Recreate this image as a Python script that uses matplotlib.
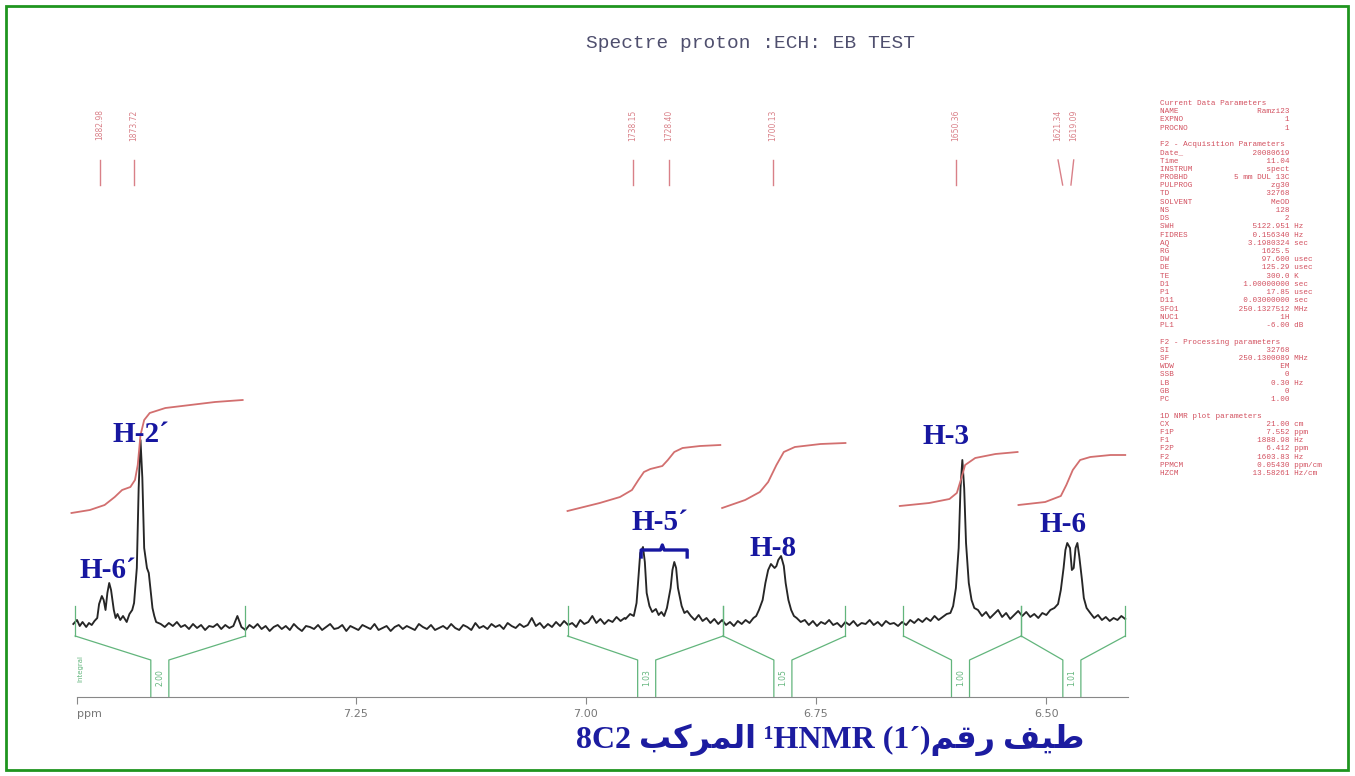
import numpy as np
import matplotlib
matplotlib.use("Agg")
import matplotlib.pyplot as plt
from matplotlib.patches import Rectangle

# ---- 1H NMR trace (ppm, intensity in arbitrary units) ----
# H-6' doublet + H-2' singlet (left end of the window)
ppm_a = [7.557, 7.553, 7.550, 7.547, 7.543, 7.540, 7.537, 7.534, 7.531, 7.529,
         7.526, 7.524, 7.522, 7.520, 7.518, 7.516, 7.513, 7.511, 7.509, 7.506,
         7.503, 7.499, 7.496, 7.493, 7.491, 7.488, 7.486, 7.484, 7.482, 7.480,
         7.477, 7.475, 7.473, 7.471, 7.469, 7.467]
int_a = [4, 8, 2, 6, 1, 5, 3, 7, 10, 24,
         32, 28, 18, 35, 45, 38, 18, 10, 14, 8,
         12, 6, 14, 18, 25, 60, 140, 188, 150, 80,
         60, 55, 38, 20, 12, 6]
# baseline 7.462 -> 6.958
base_b = [4, 1, 5, 2, 6, 1, 3, -1, 4, 0, 3, -2, 2, 1, 4, -1, 3, 0, 2, 12,
          1, -2, 3, 0, 4, -1, 2, -3, 1, 3, -1, 2, -2, 4, 0, -3, 2, 1, -1, 3,
          -2, 1, 4, -1, 0, 3, -3, 2, 0, -2, 3, 1, -1, 4, -2, 0, 2, -3, 1, 3,
          -1, 2, 0, -2, 4, 1, -1, 3, -2, 0, 2, -1, 4, 0, -2, 3, 1, -2, 5, 0,
          2, -1, 4, 1, 3, -1, 5, 2, 0, 4, 1, 3, 10, 2, 5, 0, 4, 1, 6, 2,
          7, 3, 5, 1, 8, 4, 6, 12, 5, 9, 4, 8, 6, 11, 7, 10]
# H-5'
ppm_c = [6.957, 6.952, 6.948, 6.945, 6.943, 6.941, 6.938, 6.936, 6.934, 6.931,
         6.928, 6.924, 6.921, 6.918, 6.915, 6.912, 6.908, 6.906, 6.904, 6.902,
         6.900, 6.896, 6.893, 6.890]
int_c = [9, 14, 12, 25, 50, 75, 81, 66, 35, 22,
         16, 19, 13, 16, 12, 20, 40, 58, 66, 60,
         40, 22, 15, 17]
base_d = [12, 8, 13, 7, 10, 5, 9, 4, 8, 3, 6, 2, 7, 4, 8, 5, 10]   # 6.886 -> 6.818
# H-8
ppm_e = [6.815, 6.812, 6.808, 6.805, 6.802, 6.799, 6.795, 6.793, 6.791, 6.788,
         6.785, 6.783, 6.780, 6.777, 6.774]
int_e = [12, 18, 28, 45, 58, 64, 60, 62, 68, 72, 62, 45, 28, 18, 12]
base_f = [10, 6, 8, 3, 7, 2, 6, 4, 8, 3, 5, 1, 6, 3, 7, 2, 5, 4, 8, 3,
          6, 2, 7, 4, 5, 2, 6, 3, 8, 5, 9, 6, 10, 7, 12, 8, 11, 14]   # 6.771 -> 6.608
# H-3
ppm_g = [6.604, 6.601, 6.598, 6.595, 6.593, 6.591, 6.589, 6.587, 6.584, 6.581, 6.578]
int_g = [15, 22, 40, 80, 140, 168, 140, 85, 45, 28, 20]
base_h = [18, 12, 16, 10, 14, 18, 11, 15, 9, 13, 17, 12, 16, 11, 14, 10, 15, 13, 18, 20]  # 6.574 -> 6.491
# H-6
ppm_i = [6.487, 6.484, 6.481, 6.479, 6.477, 6.474, 6.472, 6.470, 6.468, 6.466,
         6.464, 6.461, 6.459, 6.456]
int_i = [24, 38, 60, 78, 85, 80, 58, 60, 80, 85, 72, 48, 30, 20]
base_j = [15, 10, 13, 8, 11, 7, 10, 8, 12, 9]   # 6.452 -> 6.414

# ---- integral curves (ppm, running integral) ----
integ_ppm = [
    [7.559, 7.539, 7.523, 7.512, 7.504, 7.495, 7.490, 7.487, 7.484, 7.480, 7.474, 7.457, 7.430, 7.403, 7.373],
    [7.020, 6.985, 6.963, 6.950, 6.943, 6.937, 6.930, 6.917, 6.911, 6.904, 6.895, 6.876, 6.854],
    [6.852, 6.827, 6.811, 6.802, 6.793, 6.785, 6.773, 6.745, 6.718],
    [6.659, 6.627, 6.605, 6.597, 6.592, 6.588, 6.577, 6.555, 6.531],
    [6.530, 6.501, 6.484, 6.478, 6.471, 6.463, 6.452, 6.430, 6.414],
]
integ_val = [
    [115, 118, 123, 131, 138, 141, 148, 163, 193, 208, 215, 220, 223, 226, 228],
    [117, 125, 131, 138, 148, 156, 159, 162, 168, 176, 180, 182, 183],
    [120, 128, 136, 146, 163, 176, 181, 184, 185],
    [122, 125, 129, 135, 150, 163, 170, 174, 176],
    [123, 126, 132, 143, 158, 168, 171, 173, 173],
]
# integration regions (edges), box positions and integral values
region_edges = [(7.555, 7.370), (7.020, 6.851), (6.851, 6.718), (6.655, 6.527), (6.527, 6.414)]
region_box = [7.463, 6.934, 6.786, 6.593, 6.472]
region_text = ["2.00", "1.03", "1.05", "1.00", "1.01"]

# peak picking (label position, line bottom)
pick_label = [7.528, 7.491, 6.949, 6.910, 6.797, 6.598, 6.487, 6.470]
pick_peak = [7.528, 7.491, 6.949, 6.910, 6.797, 6.598, 6.482, 6.473]
sf_mhz = 250.13

# assignments
lab_text = ["H-6\u00b4", "H-2\u00b4", "H-5\u00b4", "H-8", "H-3", "H-6"]
lab_ppm = [7.520, 7.484, 6.920, 6.797, 6.609, 6.482]
lab_int = [58, 193, 106, 80, 192, 103]

params = [
    ("Current Data Parameters", None, None),
    ("NAME", "Ramzi23", ""), ("EXPNO", "1", ""), ("PROCNO", "1", ""),
    ("", None, None),
    ("F2 - Acquisition Parameters", None, None),
    ("Date_", "20080619", ""), ("Time", "11.04", ""), ("INSTRUM", "spect", ""),
    ("PROBHD", "5 mm DUL 13C", ""), ("PULPROG", "zg30", ""), ("TD", "32768", ""),
    ("SOLVENT", "MeOD", ""), ("NS", "128", ""), ("DS", "2", ""),
    ("SWH", "5122.951", "Hz"), ("FIDRES", "0.156340", "Hz"), ("AQ", "3.1980324", "sec"),
    ("RG", "1625.5", ""), ("DW", "97.600", "usec"), ("DE", "125.29", "usec"),
    ("TE", "300.0", "K"), ("D1", "1.00000000", "sec"), ("P1", "17.85", "usec"),
    ("D11", "0.03000000", "sec"), ("SFO1", "250.1327512", "MHz"), ("NUC1", "1H", ""),
    ("PL1", "-6.00", "dB"),
    ("", None, None),
    ("F2 - Processing parameters", None, None),
    ("SI", "32768", ""), ("SF", "250.1300089", "MHz"), ("WDW", "EM", ""),
    ("SSB", "0", ""), ("LB", "0.30", "Hz"), ("GB", "0", ""), ("PC", "1.00", ""),
    ("", None, None),
    ("1D NMR plot parameters", None, None),
    ("CX", "21.00", "cm"), ("F1P", "7.552", "ppm"), ("F1", "1888.98", "Hz"),
    ("F2P", "6.412", "ppm"), ("F2", "1603.83", "Hz"), ("PPMCM", "0.05430", "ppm/cm"),
    ("HZCM", "13.58261", "Hz/cm"),
]

# ---- build trace ----
trace_ppm = np.concatenate([
    ppm_a, np.linspace(7.462, 6.958, len(base_b)), ppm_c,
    np.linspace(6.886, 6.818, len(base_d)), ppm_e,
    np.linspace(6.771, 6.608, len(base_f)), ppm_g,
    np.linspace(6.574, 6.491, len(base_h)), ppm_i,
    np.linspace(6.452, 6.414, len(base_j)),
])
trace_int = np.concatenate([int_a, base_b, int_c, base_d, int_e, base_f,
                            int_g, base_h, int_i, base_j])

W, H = 1355, 776
fig = plt.figure(figsize=(W / 100, H / 100), dpi=100)
fig.patch.set_facecolor("white")

# green frame
fig.add_artist(Rectangle((6 / W, 6 / H), (1348 - 6) / W, (770 - 6) / H,
                         transform=fig.transFigure, fill=False,
                         edgecolor="#1f951f", lw=2))

ax = fig.add_axes([77 / W, 1 - 697 / H, (1128 - 77) / W, (697 - 90) / H])
ax.set_xlim(7.553, 6.411)
ax.set_ylim(-69, 538)
ax.set_facecolor("none")
for s in ["top", "left", "right"]:
    ax.spines[s].set_visible(False)
ax.spines["bottom"].set_color("#888888")
ax.set_yticks([])
ax.set_xticks([7.553, 7.25, 7.00, 6.75, 6.50])
ax.set_xticklabels(["ppm", "7.25", "7.00", "6.75", "6.50"])
ax.tick_params(axis="x", direction="out", length=5, color="#888888",
               labelsize=8, labelcolor="#777777")
ax.get_xticklabels()[0].set_ha("left")

# spectrum
ax.plot(trace_ppm, trace_int, color="#262626", lw=1.35, clip_on=False)

# integrals
green = "#62b57c"
for xs, ys in zip(integ_ppm, integ_val):
    ax.plot(xs, ys, color="#d26f6f", lw=1.3, clip_on=False)
hw = 0.0098
for (e1, e2), c, t in zip(region_edges, region_box, region_text):
    for e in (e1, e2):
        ax.plot([e, e], [-8, 22], color=green, lw=0.9, clip_on=False)
    ax.plot([e1, c + hw, c + hw], [-8, -32, -69], color=green, lw=0.9, clip_on=False)
    ax.plot([e2, c - hw, c - hw], [-8, -32, -69], color=green, lw=0.9, clip_on=False)
    ax.text(c, -50, t, rotation=90, fontsize=5.5, color=green,
            ha="center", va="center", family="DejaVu Sans")
ax.text(7.549, -40, "Integral", rotation=90, fontsize=5, color=green,
        ha="center", va="center")

# peak picking
for pl, pp in zip(pick_label, pick_peak):
    ax.plot([pl, pp], [468, 443], color="#d98088", lw=1.0)
    ax.text(pl, 503, "%.2f" % (pp * sf_mhz), rotation=90, fontsize=5.5,
            color="#d98088", ha="center", va="center")

# assignments
for t, x, y in zip(lab_text, lab_ppm, lab_int):
    ax.text(x, y, t, family="Liberation Serif", weight="bold", fontsize=21,
            color="#1717a0", ha="center", va="center")
ax.plot([6.940, 6.940, 6.919, 6.917, 6.915, 6.890, 6.890],
        [71, 78, 78, 83, 78, 78, 71], color="#1717a0", lw=2.4)

# title
fig.text(750 / W, 1 - 44 / H, "Spectre proton :ECH: EB TEST",
         family="Liberation Mono", fontsize=14, color="#4f4f6e",
         ha="center", va="center")

# parameter block
lines = []
for name, val, unit in params:
    if val is None:
        lines.append(name)
    else:
        lines.append("%-9s%19s %s" % (name, val, unit))
fig.text(1160 / W, 1 - 100 / H, "\n".join(lines), family="Liberation Mono",
         fontsize=5.5, color="#d2505f", ha="left", va="top", linespacing=1.245)

# caption (Arabic in visual order with presentation forms)
caption = ("8C2 \ufe90\ufedb\ufeae\ufee4\ufedf\ufe8d \u00b9HNMR (1\u00b4)"
           "\ufee2\ufed7\ufead \ufed2\ufef4\ufec3")
fig.text(830 / W, 1 - 740 / H, caption,
         family=["Liberation Serif", "DejaVu Sans"], weight="bold",
         fontsize=23, color="#1c1ca0", ha="center", va="center")

fig.savefig("out.png", dpi=100)
